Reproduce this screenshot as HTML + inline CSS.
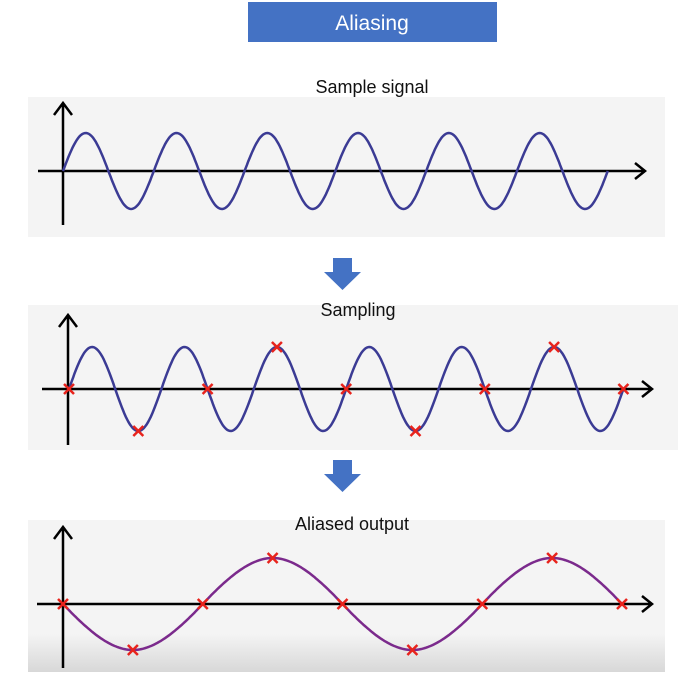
<!DOCTYPE html>
<html><head><meta charset="utf-8">
<style>
body{margin:0;width:690px;height:683px;background:#fff;overflow:hidden;font-family:"Liberation Sans",sans-serif}
</style></head>
<body>
<svg width="690" height="683" xmlns="http://www.w3.org/2000/svg" id="svg">
<defs>
<linearGradient id="g3" x1="0" y1="0" x2="0" y2="1">
<stop offset="0.75" stop-color="#f4f4f4"/><stop offset="1" stop-color="#d8d8d8"/></linearGradient>
</defs>
<rect x="248" y="2" width="249" height="40" fill="#4472c4"/>
<text x="372" y="30" font-size="21" fill="#fff" text-anchor="middle">Aliasing</text>
<text x="372" y="93" font-size="18" fill="#111" text-anchor="middle">Sample signal</text>
<rect x="28" y="97" width="637" height="140" fill="#f4f4f4"/>
<path d="M333 258h19v14h9l-18.5 18l-18.5-18h9z" fill="#4472c4"/>
<rect x="28" y="305" width="650" height="145" fill="#f4f4f4"/>
<text x="358" y="316" font-size="18" fill="#111" text-anchor="middle">Sampling</text>
<path d="M333 460h19v14h9l-18.5 18l-18.5-18h9z" fill="#4472c4"/>
<rect x="28" y="520" width="637" height="152" fill="url(#g3)"/>
<text x="352" y="530" font-size="18" fill="#111" text-anchor="middle">Aliased output</text>
<g id="marks"></g>
</svg>
<script>
const sampleValues=[0,-1,0,1,0,-1,0,1,0];
const signalCycles=[6];
const NS="http://www.w3.org/2000/svg";
const g=document.getElementById('marks');
function el(t,a){const e=document.createElementNS(NS,t);for(const k in a)e.setAttribute(k,a[k]);g.appendChild(e);return e;}
function axes(x0,x1,xv,yc,yt,yb,name){
 let a=el('path',{d:`M${x0} ${yc}L${x1} ${yc}M${x1-10} ${yc-8}L${x1} ${yc}L${x1-10} ${yc+8}M${xv} ${yb}L${xv} ${yt}M${xv-9} ${yt+12}L${xv} ${yt}L${xv+9} ${yt+12}`,stroke:'#000','stroke-width':2.5,fill:'none'});
 
 
}
function sine(x0,period,cycles,yc,amp,color,name){
 let d='';const N=400;
 for(let i=0;i<=N;i++){const t=i/N*cycles;d+=(i?'L':'M')+(x0+t*period).toFixed(1)+' '+(yc-amp*Math.sin(2*Math.PI*t)).toFixed(1);}
 let p=el('path',{d,stroke:color,'stroke-width':2.5,fill:'none'});
 
 
}
function cross(x,y,i){
 let c=el('path',{d:`M${x-5} ${y-5}L${x+5} ${y+5}M${x+5} ${y-5}L${x-5} ${y+5}`,stroke:'#e8231c','stroke-width':2.5});
 
 
}
axes(38,645,63,171,103,225,'signal-axes');
sine(63,90.8,signalCycles[0],171,38,'#3b3b94','signal-wave');
axes(42,652,68,389,315,445,'sampling-axes');
const p2=92.4, step=p2*0.75;
sine(69,p2,(sampleValues.length-1)*0.75,389,42,'#3b3b94','sampled-wave');
sampleValues.forEach((v,i)=>cross(69+i*step,389-42*v,i));
axes(37,652,63,604,527,668,'aliased-axes');
const s3=(622-63)/(sampleValues.length-1);
const n=sampleValues.length;
function sv(k){if(k<0)return 2*sampleValues[0]-sampleValues[1];if(k>=n)return 2*sampleValues[n-1]-sampleValues[n-2];return sampleValues[k];}
let d='';
for(let i=0;i<=400;i++){const u=i/400*(n-1);const k=Math.min(Math.floor(u),n-2);const t=u-k;
 const p0=sv(k-1),p1=sv(k),p2_=sv(k+1),p3=sv(k+2);
 const m1=(p2_-p0)*0.8,m2=(p3-p1)*0.8;
 const t2=t*t,t3=t2*t;
 const v=(2*t3-3*t2+1)*p1+(t3-2*t2+t)*m1+(-2*t3+3*t2)*p2_+(t3-t2)*m2;
 d+=(i?'L':'M')+(63+u*s3).toFixed(1)+' '+(604-46*v).toFixed(1);}
let ap=el('path',{d,stroke:'#7b2a8c','stroke-width':2.5,fill:'none'});


sampleValues.forEach((v,i)=>cross(63+i*s3,604-46*v,'aliased-'+i));
</script>
</body></html>
